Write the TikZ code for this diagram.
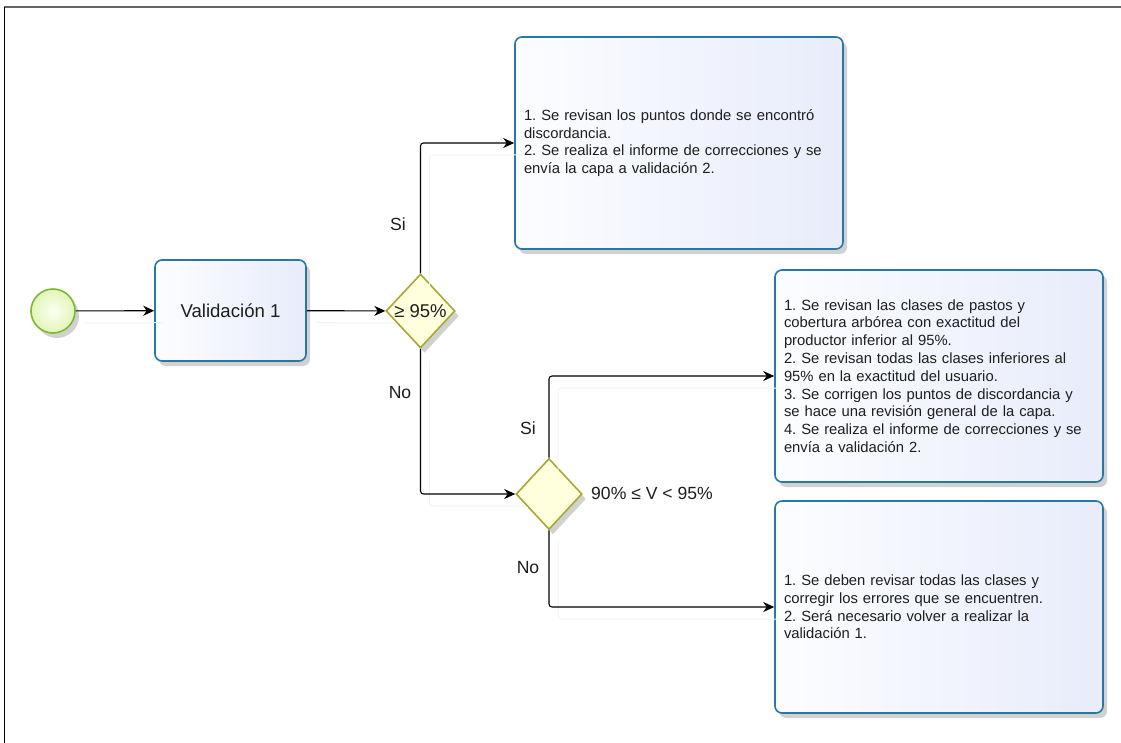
\documentclass[tikz,border=0pt]{standalone}
\usepackage{fontspec}
\setmainfont{Liberation Sans}
\usetikzlibrary{shapes.geometric,arrows.meta,shadows}
\definecolor{boxline}{RGB}{40,120,165}
\definecolor{boxfillA}{RGB}{252,253,255}
\definecolor{boxfillB}{RGB}{232,236,251}
\definecolor{startline}{RGB}{125,185,45}
\definecolor{startfillA}{RGB}{252,255,240}
\definecolor{startfillB}{RGB}{226,245,185}
\definecolor{gateline}{RGB}{168,168,50}
\definecolor{gatefill}{RGB}{255,255,222}
\definecolor{txt}{RGB}{30,30,30}
\tikzset{
  shad/.style={drop shadow={shadow xshift=4pt,shadow yshift=-5pt,opacity=0.18,fill=black}},
  taskbox/.style={draw=boxline,line width=1.6pt,rounded corners=7pt,
    left color=boxfillA,right color=boxfillB,shad,
    minimum width=328pt,minimum height=212pt,inner sep=8pt,
    text width=310pt,align=left,font=\fontsize{14.8}{17.8}\selectfont\frenchspacing,text=txt},
  firstbox/.style={draw=boxline,line width=1.6pt,rounded corners=7pt,
    left color=boxfillA,right color=boxfillB,shad,
    minimum width=151pt,minimum height=101pt,
    font=\fontsize{18.6}{21}\selectfont,text=txt},
  startev/.style={circle,draw=startline,line width=1.6pt,
    inner color=startfillA,outer color=startfillB,shad,minimum size=44pt,inner sep=0},
  gate/.style={diamond,draw=gateline,line width=1.6pt,fill=gatefill,shad,inner sep=0},
  conn/.style={draw=black,line width=1.1pt,rounded corners=3pt,-{Stealth[length=11pt,width=10pt,inset=3.5pt]},
    preaction={draw=black!5,line width=1pt,-,transform canvas={shift={(9pt,-12pt)}}}},
  lbl/.style={font=\fontsize{17.6}{20}\selectfont,text=txt,inner sep=0}
}
\begin{document}
\begin{tikzpicture}[x=1pt,y=-1pt]
\useasboundingbox (0,0) rectangle (1121,743);
\draw[black!60,line width=2pt] (4,7) -- (1121,7);
\draw[black,line width=1.5pt] (4.5,7) -- (4.5,743);

\node[startev] (start) at (53,311) {};
\node[firstbox] (v1) at (230.5,310.5) {Validación 1};
\node[gate,minimum width=69pt,minimum height=74pt,
  label={[lbl,font=\fontsize{18.5}{20}\selectfont]center:≥ 95\%}] (d1) at (420.5,311) {};
\node[gate,minimum width=66pt,minimum height=71pt] (d2) at (549,494) {};
\node[lbl,anchor=west] (d2t) at (591,493) {90\% ≤ V < 95\%};

\node[taskbox] (box1) at (679,143) {1. Se revisan los puntos donde se encontró\\ discordancia.\\
2. Se realiza el informe de correcciones y se\\ envía la capa a validación 2.};
\node[taskbox] (box2) at (939,376) {1. Se revisan las clases de pastos y\\ cobertura arbórea con exactitud del\\ productor inferior al 95\%.\\
2. Se revisan todas las clases inferiores al\\ 95\% en la exactitud del usuario.\\
3. Se corrigen los puntos de discordancia y\\ se hace una revisión general de la capa.\\
4. Se realiza el informe de correcciones y se\\ envía a validación 2.};
\node[taskbox] (box3) at (939,607) {1. Se deben revisar todas las clases y\\ corregir los errores que se encuentren.\\
2. Será necesario volver a realizar la\\ validación 1.};

\draw[conn] (start) -- (v1);
\draw[conn] (v1) -- (d1);
\draw[conn] (d1.north) |- (box1.west);
\draw[conn] (d1.south) |- (d2.west);
\draw[conn] (d2.north) |- (box2.west);
\draw[conn] (d2.south) |- (box3.west);

\node[lbl] (si1) at (398,224) {Si};
\node[lbl] (no1) at (400,393) {No};
\node[lbl] (si2) at (528,428) {Si};
\node[lbl] (no2) at (528,568) {No};
\end{tikzpicture}
\end{document}
